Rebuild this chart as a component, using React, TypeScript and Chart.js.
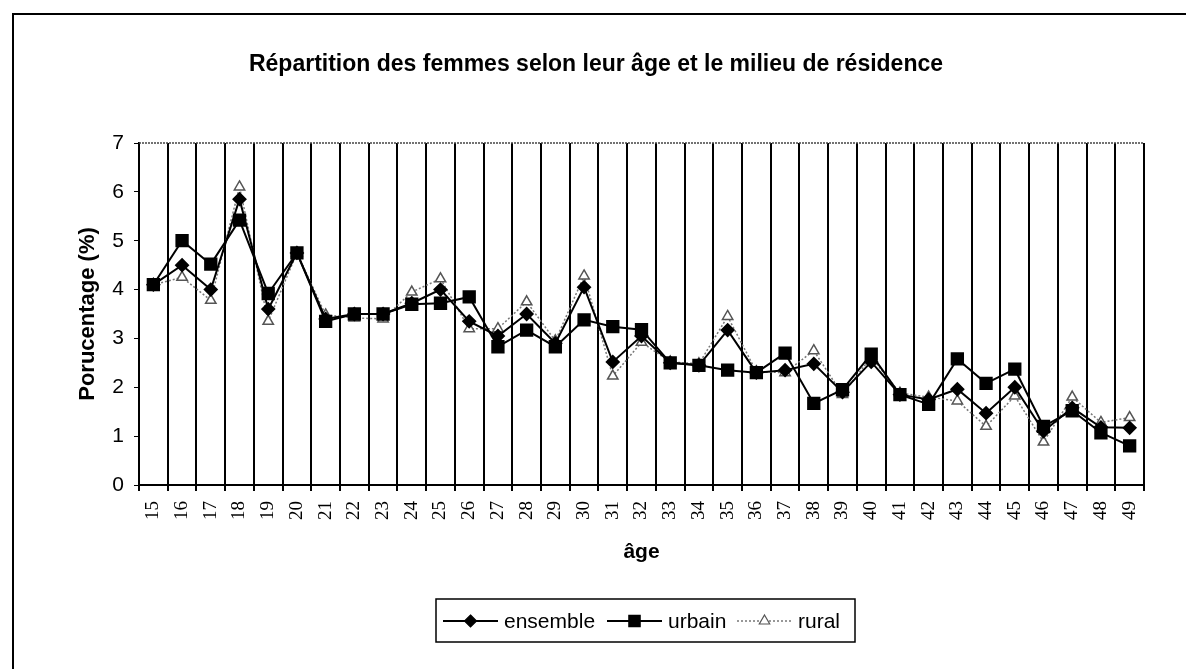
import React, { useEffect, useRef } from 'react';
import { Chart, registerables } from 'chart.js';

Chart.register(...registerables);

const ages = ['15','16','17','18','19','20','21','22','23','24','25','26','27','28','29','30','31','32','33','34','35','36','37','38','39','40','41','42','43','44','45','46','47','48','49'];

const ensemble = [4.1,4.5,4.0,5.85,3.6,4.75,3.4,3.5,3.5,3.72,4.0,3.35,3.05,3.5,2.9,4.05,2.52,3.05,2.5,2.45,3.17,2.3,2.35,2.48,1.9,2.52,1.85,1.75,1.96,1.47,2.0,1.1,1.58,1.18,1.17];
const urbain = [4.1,5.0,4.52,5.42,3.92,4.75,3.35,3.5,3.5,3.7,3.72,3.85,2.83,3.17,2.83,3.38,3.24,3.18,2.5,2.45,2.35,2.3,2.7,1.67,1.95,2.68,1.85,1.65,2.58,2.08,2.37,1.2,1.52,1.07,0.8];
const rural = [4.1,4.25,3.78,6.1,3.35,4.75,3.48,3.42,3.4,3.95,4.22,3.2,3.2,3.75,2.95,4.28,2.23,2.92,2.52,2.48,3.45,2.32,2.3,2.75,1.85,2.62,1.88,1.8,1.72,1.2,1.82,0.88,1.8,1.28,1.38];

const yMin = 0;
const yMax = 7;
const yStep = 1;

const seriesNames = ['ensemble', 'urbain', 'rural'];
const TITLE = 'Répartition des femmes selon leur âge et le milieu de résidence';
const X_TITLE = 'âge';
const Y_TITLE = 'Porucentage (%)';

const SANS = '"Liberation Sans", Arial, sans-serif';
const SERIF = '"Liberation Serif", "Times New Roman", serif';

function drawMarker(ctx: CanvasRenderingContext2D, style: string, x: number, y: number, r: number, fill: string, stroke: string) {
  ctx.save();
  ctx.beginPath();
  if (style === 'rectRot') {
    ctx.moveTo(x, y - r); ctx.lineTo(x + r, y); ctx.lineTo(x, y + r); ctx.lineTo(x - r, y); ctx.closePath();
  } else if (style === 'rect') {
    const s = r * Math.SQRT1_2;
    ctx.rect(x - s, y - s, 2 * s, 2 * s);
  } else {
    ctx.moveTo(x, y - r); ctx.lineTo(x + r * 0.87, y + r * 0.5); ctx.lineTo(x - r * 0.87, y + r * 0.5); ctx.closePath();
  }
  ctx.fillStyle = fill; ctx.fill();
  ctx.lineWidth = 1.2; ctx.strokeStyle = stroke; ctx.setLineDash([]); ctx.stroke();
  ctx.restore();
}

const decorPlugin = {
  id: 'decor',
  beforeDraw(chart: any) {
    const ctx = chart.ctx as CanvasRenderingContext2D;
    ctx.save();
    ctx.fillStyle = '#fff';
    ctx.fillRect(0, 0, chart.width, chart.height);
    ctx.restore();
  },
  afterDraw(chart: any) {
    const ctx = chart.ctx as CanvasRenderingContext2D;
    const ca = chart.chartArea;
    ctx.save();
    // outer frame (left + top)
    ctx.strokeStyle = '#000';
    ctx.lineWidth = 2;
    ctx.beginPath();
    ctx.moveTo(13, chart.height);
    ctx.lineTo(13, 14);
    ctx.lineTo(chart.width, 14);
    ctx.stroke();
    // top border of plot area
    ctx.lineWidth = 1.5;
    ctx.strokeStyle = '#444';
    ctx.setLineDash([2, 1]);
    ctx.beginPath();
    ctx.moveTo(ca.left, ca.top);
    ctx.lineTo(ca.right, ca.top);
    ctx.stroke();
    ctx.setLineDash([]);
    // title
    ctx.fillStyle = '#000';
    ctx.font = 'bold 23px ' + SANS;
    ctx.textAlign = 'center';
    ctx.textBaseline = 'middle';
    ctx.fillText(TITLE, 596, 65);
    // x title
    ctx.font = 'bold 21px ' + SANS;
    ctx.fillText(X_TITLE, (ca.left + ca.right) / 2, 552);
    // y title
    ctx.save();
    ctx.translate(88, (ca.top + ca.bottom) / 2);
    ctx.rotate(-Math.PI / 2);
    ctx.font = 'bold 22px ' + SANS;
    ctx.fillText(Y_TITLE, 0, 0);
    ctx.restore();
    // legend
    const bx0 = 436, bx1 = 855, by0 = 599, by1 = 642;
    ctx.lineWidth = 1.5;
    ctx.strokeStyle = '#000';
    ctx.strokeRect(bx0, by0, bx1 - bx0, by1 - by0);
    const ly = 621;
    const itemX = [443, 607, 737];
    ctx.font = '21px ' + SANS;
    ctx.textAlign = 'left';
    chart.data.datasets.forEach((ds: any, i: number) => {
      const x0 = itemX[i];
      const x1 = x0 + 55;
      ctx.save();
      ctx.strokeStyle = ds.borderColor;
      ctx.lineWidth = ds.borderWidth;
      ctx.setLineDash(ds.borderDash || []);
      ctx.beginPath();
      ctx.moveTo(x0, ly);
      ctx.lineTo(x1, ly);
      ctx.stroke();
      ctx.restore();
      drawMarker(ctx, ds.pointStyle, (x0 + x1) / 2, ly, ds.pointRadius, ds.pointBackgroundColor, ds.pointBorderColor);
      ctx.fillStyle = '#000';
      ctx.fillText(ds.label, x1 + 6, ly + 1);
    });
    ctx.restore();
  },
};

export default function App() {
  const ref = useRef<HTMLCanvasElement | null>(null);
  useEffect(() => {
    if (!ref.current) return;
    const chart = new Chart(ref.current, {
      type: 'line',
      data: {
        labels: ages,
        datasets: [
          {
            label: seriesNames[0],
            data: ensemble,
            borderColor: '#000',
            borderWidth: 2,
            pointStyle: 'rectRot',
            pointRadius: 6,
            pointBackgroundColor: '#000',
            pointBorderColor: '#000',
            tension: 0,
          },
          {
            label: seriesNames[1],
            data: urbain,
            borderColor: '#000',
            borderWidth: 2,
            pointStyle: 'rect',
            pointRadius: 8,
            pointBackgroundColor: '#000',
            pointBorderColor: '#000',
            tension: 0,
          },
          {
            label: seriesNames[2],
            data: rural,
            borderColor: '#777',
            borderWidth: 1.5,
            borderDash: [2, 2],
            pointStyle: 'triangle',
            pointRadius: 6,
            pointBackgroundColor: '#fff',
            pointBorderColor: '#555',
            tension: 0,
          },
        ],
      } as any,
      options: {
        animation: false,
        responsive: false,
        maintainAspectRatio: false,
        layout: { padding: { left: 0, top: 143, right: 42, bottom: 144 } },
        plugins: {
          legend: { display: false },
          title: { display: false },
          tooltip: { enabled: false },
        },
        scales: {
          x: {
            type: 'category',
            offset: true,
            grid: { offset: true, color: '#000', lineWidth: 2, tickLength: 6, drawOnChartArea: true },
            border: { display: true, color: '#000', width: 2 },
            ticks: {
              color: '#000',
              font: { family: SERIF, size: 19 },
              minRotation: 90,
              maxRotation: 90,
              padding: 10,
              autoSkip: false,
            },
            afterFit: (s: any) => { s.height = 40; },
          },
          y: {
            min: yMin,
            max: yMax,
            grid: { drawOnChartArea: false, color: '#000', tickLength: 5 },
            border: { display: true, color: '#000', width: 2 },
            ticks: {
              stepSize: yStep,
              color: '#000',
              font: { family: SANS, size: 21 },
              padding: 10,
            },
            afterFit: (s: any) => { s.width = 139; },
          },
        },
      } as any,
      plugins: [decorPlugin],
    });
    return () => chart.destroy();
  }, []);
  return (
    <div style={{ position: 'fixed', left: 0, top: 0, width: 1186, height: 669, background: '#fff' }}>
      <canvas ref={ref} width={1186} height={669} style={{ display: 'block', width: 1186, height: 669 }} />
    </div>
  );
}
